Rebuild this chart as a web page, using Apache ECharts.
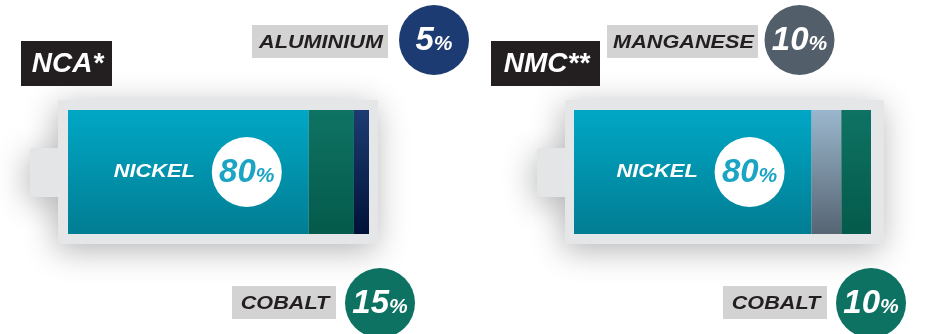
<!DOCTYPE html>
<html>
<head>
<meta charset="utf-8">
<script src="https://cdn.jsdelivr.net/npm/echarts@6/dist/echarts.min.js"></script>
<style>
  html, body { margin: 0; padding: 0; background: #ffffff; }
  #main { width: 925px; height: 334px; }
</style>
</head>
<body>
<div id="main"></div>
<script>
// Cathode chemistries and their metal shares (percent)
const batteries = ['NCA*', 'NMC**'];
const ncaElements = ['NICKEL', 'COBALT', 'ALUMINIUM'];
const ncaShares = [80, 15, 5];
const nmcElements = ['NICKEL', 'MANGANESE', 'COBALT'];
const nmcShares = [80, 10, 10];

const FONT = 'Liberation Sans, Arial, sans-serif';

function vGrad(top, bottom) {
  return { type: 'linear', x: 0, y: 0, x2: 0, y2: 1,
    colorStops: [{ offset: 0, color: top }, { offset: 1, color: bottom }] };
}

// Cell fill per metal
const cellFill = {
  NICKEL: vGrad('#00a7c5', '#027d93'),
  COBALT: vGrad('#0e7363', '#045a4b'),
  ALUMINIUM: vGrad('#1d3b71', '#011238'),
  MANGANESE: vGrad('#9bb7cd', '#566473')
};
// Badge colour per metal
const badgeFill = {
  COBALT: '#0d7262',
  ALUMINIUM: '#1c3b72',
  MANGANESE: '#525f6b'
};

// Battery body geometry (frame, terminal, inner cell area)
const packs = [
  { name: batteries[0], elements: ncaElements, shares: ncaShares,
    frame: [58, 100, 320, 144], cap: [30, 148, 30, 49], cell: [68, 110, 301, 124],
    tag: [21, 41, 91, 45],
    callouts: { ALUMINIUM: { box: [252, 25, 136, 33], badge: [434, 40] },
                COBALT: { box: [232, 286, 104, 33], badge: [380, 303] } } },
  { name: batteries[1], elements: nmcElements, shares: nmcShares,
    frame: [565, 100, 319, 144], cap: [537, 148, 30, 49], cell: [574, 110, 297, 124],
    tag: [491, 41, 109, 45],
    callouts: { MANGANESE: { box: [607, 25, 151, 33], badge: [799.5, 40] },
                COBALT: { box: [723, 286, 104, 33], badge: [871, 303] } } }
];

const chart = echarts.init(document.getElementById('main'));

const grids = [], xAxes = [], yAxes = [], series = [];
packs.forEach((p, gi) => {
  grids.push({ left: p.cell[0], top: p.cell[1], width: p.cell[2], height: p.cell[3] });
  xAxes.push({ gridIndex: gi, type: 'value', min: 0, max: 100, show: false });
  yAxes.push({ gridIndex: gi, type: 'category', data: [p.name], show: false });
  p.elements.forEach((el, i) => {
    series.push({
      type: 'bar', name: p.name + ' ' + el, stack: 'pack' + gi,
      xAxisIndex: gi, yAxisIndex: gi,
      barWidth: '100%', barCategoryGap: 0,
      data: [p.shares[i]],
      itemStyle: { color: cellFill[el] },
      silent: true
    });
  });
});

chart.setOption({
  animation: false,
  grid: grids,
  xAxis: xAxes,
  yAxis: yAxes,
  series: series
});

function pctText(v, big, small, color) {
  return {
    style: {
      text: '{n|' + v + '}{p|%}',
      rich: {
        n: { fontFamily: FONT, fontWeight: 'bold', fontStyle: 'italic', fontSize: big, fill: color, color: color },
        p: { fontFamily: FONT, fontWeight: 'bold', fontStyle: 'italic', fontSize: small, fill: color, color: color, padding: [big * 0.22, 0, 0, 0] }
      },
      align: 'center', verticalAlign: 'middle'
    }
  };
}

const gfx = [];
packs.forEach((p, gi) => {
  const shadow = { shadowBlur: 32, shadowColor: 'rgba(0,0,0,0.3)', shadowOffsetX: -2, shadowOffsetY: 6 };
  // shadow layer
  gfx.push({ type: 'rect', z: 0, shape: { x: p.cap[0], y: p.cap[1], width: p.cap[2], height: p.cap[3], r: [4, 0, 0, 4] },
    style: Object.assign({ fill: '#e4e5e7' }, shadow), silent: true });
  gfx.push({ type: 'rect', z: 0, shape: { x: p.frame[0], y: p.frame[1], width: p.frame[2], height: p.frame[3], r: 2 },
    style: Object.assign({ fill: '#e4e5e7' }, shadow), silent: true });
  // clean fills over the shadow
  gfx.push({ type: 'rect', z: 1, shape: { x: p.cap[0], y: p.cap[1], width: p.cap[2], height: p.cap[3], r: [4, 0, 0, 4] },
    style: { fill: '#e4e5e7' }, silent: true });
  gfx.push({ type: 'rect', z: 1, shape: { x: p.frame[0], y: p.frame[1], width: p.frame[2], height: p.frame[3], r: 2 },
    style: { fill: '#e5e6e8' }, silent: true });

  // chemistry tag
  gfx.push({ type: 'rect', z: 5, shape: { x: p.tag[0], y: p.tag[1], width: p.tag[2], height: p.tag[3] },
    style: { fill: '#231f20' }, silent: true });
  gfx.push({ type: 'text', z: 6, x: p.tag[0] + p.tag[2] / 2 + 1, y: p.tag[1] + p.tag[3] / 2 + 1,
    style: { text: p.name, fontFamily: FONT, fontWeight: 'bold', fontStyle: 'italic', fontSize: 28,
      fill: '#ffffff', align: 'center', verticalAlign: 'middle' }, silent: true });

  // nickel label + badge positioned from the end of the nickel cell
  const end = chart.convertToPixel({ gridIndex: gi }, [p.shares[0], 0]);
  const midY = p.cell[1] + p.cell[3] / 2;
  gfx.push({ type: 'text', z: 10, x: end[0] - 154.5, y: midY, scaleX: 1.15,
    style: { text: p.elements[0], fontFamily: FONT, fontWeight: 'bold', fontStyle: 'italic', fontSize: 19,
      fill: '#ffffff', align: 'center', verticalAlign: 'middle' }, silent: true });
  gfx.push({ type: 'circle', z: 10, shape: { cx: end[0] - 62, cy: midY, r: 35 },
    style: { fill: '#ffffff' }, silent: true });
  gfx.push(Object.assign({ type: 'text', z: 11, x: end[0] - 62, y: midY + 1, silent: true },
    pctText(p.shares[0], 33, 21, '#1ba4c3')));

  // callouts for the other metals
  p.elements.forEach((el, i) => {
    const c = p.callouts[el];
    if (!c) return;
    gfx.push({ type: 'rect', z: 5, shape: { x: c.box[0], y: c.box[1], width: c.box[2], height: c.box[3] },
      style: { fill: '#d3d3d3' }, silent: true });
    gfx.push({ type: 'text', z: 6, x: c.box[0] + c.box[2] / 2 + 1, y: c.box[1] + c.box[3] / 2 + 1, scaleX: 1.14,
      style: { text: el, fontFamily: FONT, fontWeight: 'bold', fontStyle: 'italic', fontSize: 19,
        fill: '#231f20', align: 'center', verticalAlign: 'middle' }, silent: true });
    gfx.push({ type: 'circle', z: 5, shape: { cx: c.badge[0], cy: c.badge[1], r: 35 },
      style: { fill: badgeFill[el] }, silent: true });
    gfx.push(Object.assign({ type: 'text', z: 6, x: c.badge[0], y: c.badge[1] + 1, silent: true },
      pctText(p.shares[i], 33, 21, '#ffffff')));
  });
});

chart.setOption({ graphic: { elements: gfx } });
</script>
</body>
</html>
